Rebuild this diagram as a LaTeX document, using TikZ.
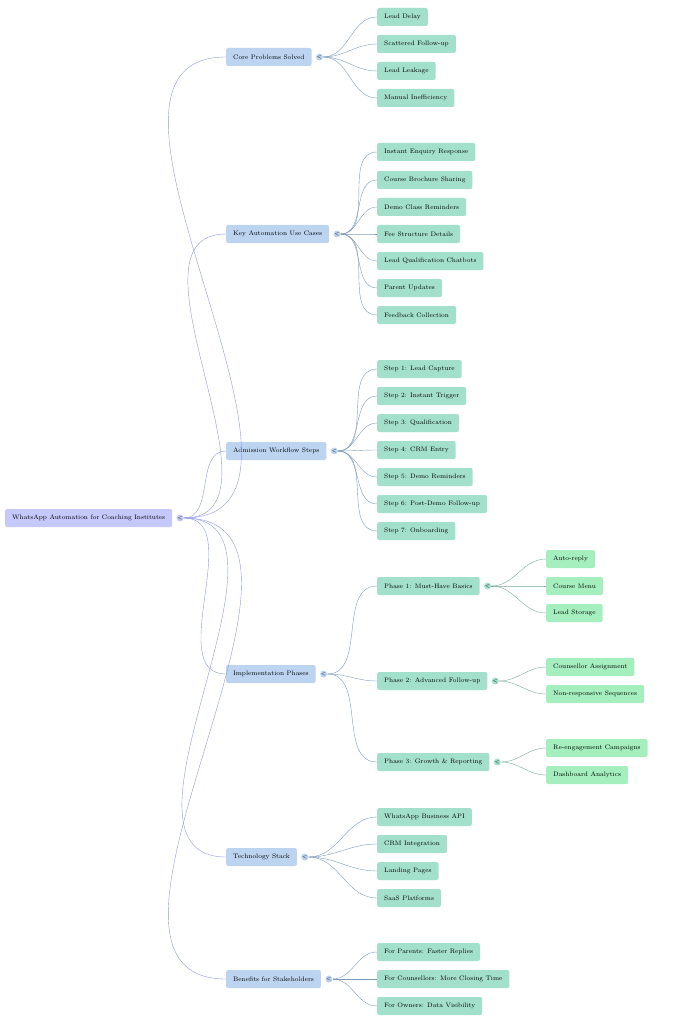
\documentclass[tikz,border=0pt]{standalone}
\usepackage{tikz}
\usetikzlibrary{positioning}
\definecolor{rootfill}{HTML}{C5C8FA}
\definecolor{secfill}{HTML}{BCD4F0}
\definecolor{itemfill}{HTML}{A3E0CC}
\definecolor{subfill}{HTML}{A4EFBD}
\definecolor{rootline}{HTML}{8F99E0}
\definecolor{secline}{HTML}{7F9BB8}
\definecolor{itemline}{HTML}{7AAA9C}
\tikzset{
  box/.style={anchor=west, rounded corners=2pt, minimum height=18pt, inner xsep=7pt, inner ysep=0pt, font=\fontsize{6.5}{8}\selectfont},
  rootbox/.style={box, fill=rootfill},
  secbox/.style={box, fill=secfill},
  itembox/.style={box, fill=itemfill},
  subbox/.style={box, fill=subfill},
  knob/.style={circle, inner sep=0pt, minimum size=7pt, font=\fontsize{4}{4}\selectfont, right=4pt of #1},
  link/.style={out=0, in=180, line width=0.6pt},
}
\newcommand{\conn}[3]{\draw[#1] (#2.east) to[link] (#3.west);}
\begin{document}
\begin{tikzpicture}[x=1pt,y=-1pt]
\useasboundingbox (0,0) rectangle (683,1024);
% root
\node[rootbox] (root) at (5,518) {WhatsApp Automation for Coaching Institutes};
\node[knob=root, fill=rootfill] (kroot) {$<$};
% sections
\node[secbox] (core) at (226,57) {Core Problems Solved};
\node[secbox] (uses) at (226,234) {Key Automation Use Cases};
\node[secbox] (flow) at (226,451) {Admission Workflow Steps};
\node[secbox] (phase) at (226,674) {Implementation Phases};
\node[secbox] (tech) at (226,857) {Technology Stack};
\node[secbox] (bene) at (226,979) {Benefits for Stakeholders};
\foreach \s in {core,uses,flow,phase,tech,bene}{
  \node[knob=\s, fill=secfill] (k\s) {$<$};
  \conn{rootline}{kroot}{\s}
}
% core problems
\node[itembox] (core1) at (377,17) {Lead Delay};
\node[itembox] (core2) at (377,44) {Scattered Follow-up};
\node[itembox] (core3) at (377,71) {Lead Leakage};
\node[itembox] (core4) at (377,98) {Manual Inefficiency};
% use cases
\node[itembox] (uses1) at (377,152) {Instant Enquiry Response};
\node[itembox] (uses2) at (377,180) {Course Brochure Sharing};
\node[itembox] (uses3) at (377,207) {Demo Class Reminders};
\node[itembox] (uses4) at (377,234) {Fee Structure Details};
\node[itembox] (uses5) at (377,261) {Lead Qualification Chatbots};
\node[itembox] (uses6) at (377,288) {Parent Updates};
\node[itembox] (uses7) at (377,315) {Feedback Collection};
% workflow
\node[itembox] (flow1) at (377,369) {Step 1: Lead Capture};
\node[itembox] (flow2) at (377,396) {Step 2: Instant Trigger};
\node[itembox] (flow3) at (377,423) {Step 3: Qualification};
\node[itembox] (flow4) at (377,450) {Step 4: CRM Entry};
\node[itembox] (flow5) at (377,477) {Step 5: Demo Reminders};
\node[itembox] (flow6) at (377,504) {Step 6: Post-Demo Follow-up};
\node[itembox] (flow7) at (377,531) {Step 7: Onboarding};
% phases
\node[itembox] (phase1) at (377,586) {Phase 1: Must-Have Basics};
\node[itembox] (phase2) at (377,681) {Phase 2: Advanced Follow-up};
\node[itembox] (phase3) at (377,762) {Phase 3: Growth \& Reporting};
% tech
\node[itembox] (tech1) at (377,817) {WhatsApp Business API};
\node[itembox] (tech2) at (377,844) {CRM Integration};
\node[itembox] (tech3) at (377,871) {Landing Pages};
\node[itembox] (tech4) at (377,898) {SaaS Platforms};
% benefits
\node[itembox] (bene1) at (377,952) {For Parents: Faster Replies};
\node[itembox] (bene2) at (377,979) {For Counsellors: More Closing Time};
\node[itembox] (bene3) at (377,1006) {For Owners: Data Visibility};
\foreach \i in {1,...,4}{\conn{secline}{kcore}{core\i}}
\foreach \i in {1,...,7}{\conn{secline}{kuses}{uses\i}}
\foreach \i in {1,...,7}{\conn{secline}{kflow}{flow\i}}
\foreach \i in {1,...,3}{\conn{secline}{kphase}{phase\i}}
\foreach \i in {1,...,4}{\conn{secline}{ktech}{tech\i}}
\foreach \i in {1,...,3}{\conn{secline}{kbene}{bene\i}}
% phase details
\foreach \i in {1,2,3}{\node[knob=phase\i, fill=itemfill] (kphase\i) {$<$};}
\node[subbox] (p1a) at (546,559) {Auto-reply};
\node[subbox] (p1b) at (546,586) {Course Menu};
\node[subbox] (p1c) at (546,613) {Lead Storage};
\node[subbox] (p2a) at (546,667) {Counsellor Assignment};
\node[subbox] (p2b) at (546,694) {Non-responsive Sequences};
\node[subbox] (p3a) at (546,748) {Re-engagement Campaigns};
\node[subbox] (p3b) at (546,775) {Dashboard Analytics};
\foreach \c in {p1a,p1b,p1c}{\conn{itemline}{kphase1}{\c}}
\foreach \c in {p2a,p2b}{\conn{itemline}{kphase2}{\c}}
\foreach \c in {p3a,p3b}{\conn{itemline}{kphase3}{\c}}
\end{tikzpicture}
\end{document}
